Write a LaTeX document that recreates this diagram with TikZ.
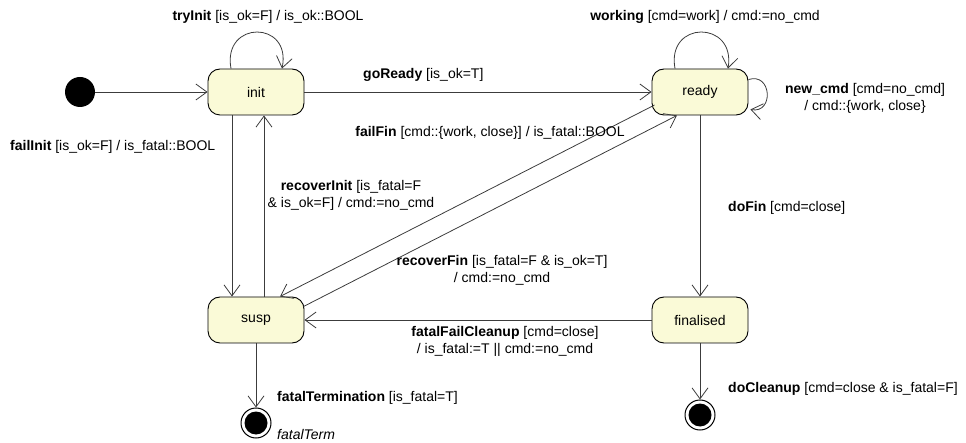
\documentclass[tikz,border=0pt]{standalone}
\usepackage{fontspec}
\setmainfont{Liberation Sans}
\usetikzlibrary{arrows.meta}
\definecolor{statefill}{RGB}{250,250,215}
\definecolor{linegray}{RGB}{60,60,60}
\begin{document}
\begin{tikzpicture}[x=1pt,y=-1pt,
  state/.style={draw=black, fill=statefill, rounded corners=12pt, minimum width=96pt, minimum height=46pt, line width=0.9pt, inner sep=0pt, font=\fontsize{14}{16}\selectfont},
  tr/.style={draw=linegray, line width=0.8pt, -{Straight Barb[length=11pt,width=16pt,line width=0.8pt]}},
  lbl/.style={font=\fontsize{14}{17}\selectfont, inner sep=0pt, align=center},
  startdot/.style={circle, fill=black, minimum size=30pt, inner sep=0pt},
  enddot/.style={circle, draw=black, line width=1pt, fill=white, minimum size=30pt, inner sep=0pt,
    path picture={\fill[black] (path picture bounding box.center) circle (11.5pt);}},
]
\useasboundingbox (0,0) rectangle (966,443);
% states
\node[startdot] (start) at (80,92) {};
\node[state] (init) at (256,92) {init};
\node[state] (ready) at (700,92) {ready};
\node[state] (susp) at (256,320) {susp};
\node[state] (fin) at (700,320) {finalised};
\node[enddot] (end1) at (256,423) {};
\node[enddot] (end2) at (700,415) {};
% transitions
\draw[tr] (start) -- (init);
\draw[tr] ([xshift=-25pt]init.north) .. controls (222,20) and (292,20) .. ([xshift=26pt]init.north);
\draw[tr] ([xshift=-25pt]ready.north) .. controls (666,20) and (736,20) .. ([xshift=28pt]ready.north);
\draw[tr] ([shift={(0,11)}]ready.north east) .. controls (772,72) and (774,114) .. ([shift={(2,-6)}]ready.south east);
\draw[tr] (init) -- (ready);
\draw[tr] ([xshift=-24pt]init.south) -- ([xshift=-24pt]susp.north);
\draw[tr] ([xshift=8pt]susp.north) -- ([xshift=8pt]init.south);
\draw[tr] ([shift={(3,13)}]ready.west) -- ([xshift=24pt]susp.north);
\draw[tr] ([shift={(-1,10)}]susp.north east) -- ([xshift=-23pt]ready.south);
\draw[tr] (ready) -- (fin);
\draw[tr] (fin) -- (susp);
\draw[tr] (susp) -- (end1);
\draw[tr] (fin) -- (end2);
% labels
\node[lbl] (l1) at (268,17) {\textbf{tryInit} [is\_ok=F] / is\_ok::BOOL};
\node[lbl] (l2) at (705,17) {\textbf{working} [cmd=work] / cmd:=no\_cmd};
\node[lbl, anchor=west] (l3) at (363,75) {\textbf{goReady} [is\_ok=T]};
\node[lbl, anchor=west] (l4) at (10,147) {\textbf{failInit} [is\_ok=F] / is\_fatal::BOOL};
\node[lbl] (l5) at (351,195) {\textbf{recoverInit} [is\_fatal=F\\ \& is\_ok=F] / cmd:=no\_cmd};
\node[lbl] (l6) at (490,133) {\textbf{failFin} [cmd::\{work, close\}] / is\_fatal::BOOL};
\node[lbl] (l7) at (865,98) {\textbf{new\_cmd} [cmd=no\_cmd]\\ / cmd::\{work, close\}};
\node[lbl, anchor=west] (l8) at (728,208) {\textbf{doFin} [cmd=close]};
\node[lbl] (l9) at (502,270) {\textbf{recoverFin} [is\_fatal=F \& is\_ok=T]\\ / cmd:=no\_cmd};
\node[lbl] (l10) at (505,341) {\textbf{fatalFailCleanup} [cmd=close]\\ / is\_fatal:=T || cmd:=no\_cmd};
\node[lbl, anchor=west] (l11) at (277,398) {\textbf{fatalTermination} [is\_fatal=T]};
\node[lbl, anchor=base west] (l12) at (277,439) {\textit{fatalTerm}};
\node[lbl, anchor=west] (l13) at (728,389) {\textbf{doCleanup} [cmd=close \& is\_fatal=F]};
\end{tikzpicture}
\end{document}
